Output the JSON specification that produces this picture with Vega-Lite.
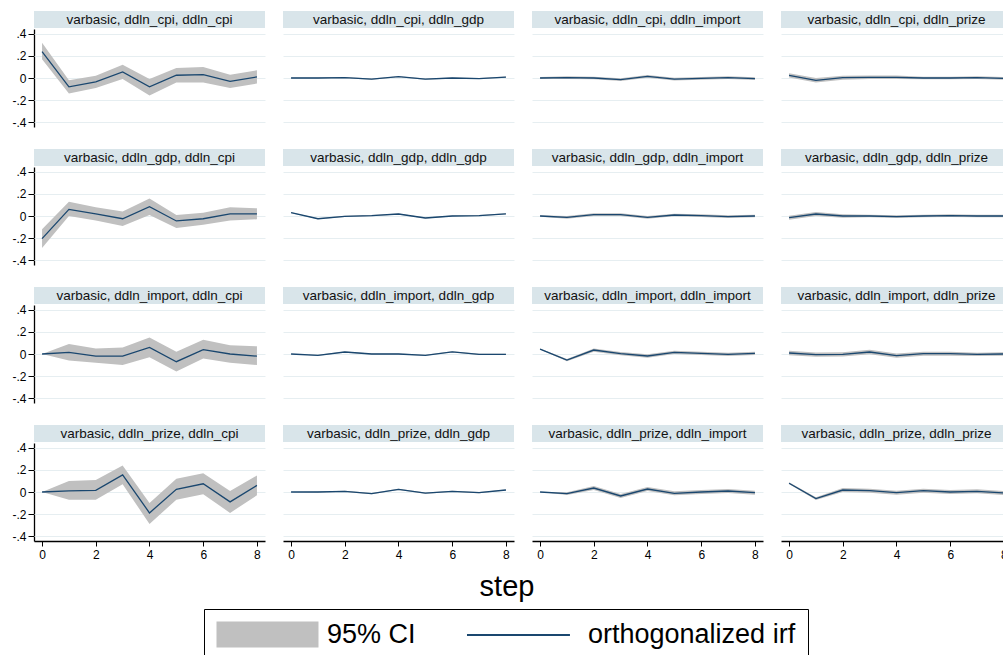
{
  "$schema": "https://vega.github.io/schema/vega-lite/v6.json",
  "background": "white",
  "padding": {"left": 11, "top": 11, "right": -8, "bottom": -6},
  "title": {
    "text": "step",
    "orient": "bottom",
    "anchor": "middle",
    "offset": -88,
    "dx": -5,
    "font": "Liberation Sans",
    "fontSize": 29,
    "fontWeight": "normal",
    "color": "black"
  },
  "config": {
    "font": "Liberation Sans",
    "view": {"stroke": null},
    "axis": {
      "labelFont": "Liberation Sans",
      "labelFontSize": 12,
      "labelColor": "black",
      "domainColor": "black",
      "domainWidth": 1.3,
      "tickColor": "black",
      "tickSize": 6,
      "tickWidth": 1,
      "gridColor": "#e6eef1",
      "gridWidth": 1,
      "labelOverlap": false
    },
    "axisX": {"values": [0, 2, 4, 6, 8], "grid": false, "labelPadding": 3, "tickSize": 5},
    "axisY": {"values": [-0.4, -0.2, 0, 0.2, 0.4], "tickCount": 5, "grid": true, "labelPadding": 2}
  },
  "data": {
    "values": [
      {"impulse":"ddln_cpi","response":"ddln_cpi","step":0,"irf":0.24,"lo":0.17,"hi":0.32},
      {"impulse":"ddln_cpi","response":"ddln_cpi","step":1,"irf":-0.08,"lo":-0.14,"hi":-0.02},
      {"impulse":"ddln_cpi","response":"ddln_cpi","step":2,"irf":-0.035,"lo":-0.09,"hi":0.02},
      {"impulse":"ddln_cpi","response":"ddln_cpi","step":3,"irf":0.055,"lo":-0.01,"hi":0.12},
      {"impulse":"ddln_cpi","response":"ddln_cpi","step":4,"irf":-0.08,"lo":-0.16,"hi":-0.01},
      {"impulse":"ddln_cpi","response":"ddln_cpi","step":5,"irf":0.025,"lo":-0.04,"hi":0.09},
      {"impulse":"ddln_cpi","response":"ddln_cpi","step":6,"irf":0.03,"lo":-0.04,"hi":0.1},
      {"impulse":"ddln_cpi","response":"ddln_cpi","step":7,"irf":-0.03,"lo":-0.09,"hi":0.03},
      {"impulse":"ddln_cpi","response":"ddln_cpi","step":8,"irf":0.01,"lo":-0.05,"hi":0.07},

      {"impulse":"ddln_gdp","response":"ddln_cpi","step":0,"irf":-0.205,"lo":-0.29,"hi":-0.12},
      {"impulse":"ddln_gdp","response":"ddln_cpi","step":1,"irf":0.06,"lo":0.0,"hi":0.13},
      {"impulse":"ddln_gdp","response":"ddln_cpi","step":2,"irf":0.02,"lo":-0.04,"hi":0.08},
      {"impulse":"ddln_gdp","response":"ddln_cpi","step":3,"irf":-0.025,"lo":-0.09,"hi":0.04},
      {"impulse":"ddln_gdp","response":"ddln_cpi","step":4,"irf":0.085,"lo":0.01,"hi":0.16},
      {"impulse":"ddln_gdp","response":"ddln_cpi","step":5,"irf":-0.045,"lo":-0.11,"hi":0.01},
      {"impulse":"ddln_gdp","response":"ddln_cpi","step":6,"irf":-0.025,"lo":-0.08,"hi":0.03},
      {"impulse":"ddln_gdp","response":"ddln_cpi","step":7,"irf":0.02,"lo":-0.04,"hi":0.08},
      {"impulse":"ddln_gdp","response":"ddln_cpi","step":8,"irf":0.02,"lo":-0.03,"hi":0.07},

      {"impulse":"ddln_import","response":"ddln_cpi","step":0,"irf":0,"lo":0,"hi":0},
      {"impulse":"ddln_import","response":"ddln_cpi","step":1,"irf":0.015,"lo":-0.06,"hi":0.09},
      {"impulse":"ddln_import","response":"ddln_cpi","step":2,"irf":-0.02,"lo":-0.08,"hi":0.05},
      {"impulse":"ddln_import","response":"ddln_cpi","step":3,"irf":-0.02,"lo":-0.1,"hi":0.06},
      {"impulse":"ddln_import","response":"ddln_cpi","step":4,"irf":0.06,"lo":-0.03,"hi":0.15},
      {"impulse":"ddln_import","response":"ddln_cpi","step":5,"irf":-0.07,"lo":-0.16,"hi":0.02},
      {"impulse":"ddln_import","response":"ddln_cpi","step":6,"irf":0.04,"lo":-0.04,"hi":0.13},
      {"impulse":"ddln_import","response":"ddln_cpi","step":7,"irf":0.0,"lo":-0.08,"hi":0.08},
      {"impulse":"ddln_import","response":"ddln_cpi","step":8,"irf":-0.02,"lo":-0.1,"hi":0.07},

      {"impulse":"ddln_prize","response":"ddln_cpi","step":0,"irf":0,"lo":0,"hi":0},
      {"impulse":"ddln_prize","response":"ddln_cpi","step":1,"irf":0.01,"lo":-0.07,"hi":0.1},
      {"impulse":"ddln_prize","response":"ddln_cpi","step":2,"irf":0.015,"lo":-0.07,"hi":0.11},
      {"impulse":"ddln_prize","response":"ddln_cpi","step":3,"irf":0.155,"lo":0.07,"hi":0.24},
      {"impulse":"ddln_prize","response":"ddln_cpi","step":4,"irf":-0.19,"lo":-0.29,"hi":-0.1},
      {"impulse":"ddln_prize","response":"ddln_cpi","step":5,"irf":0.025,"lo":-0.07,"hi":0.12},
      {"impulse":"ddln_prize","response":"ddln_cpi","step":6,"irf":0.075,"lo":-0.02,"hi":0.17},
      {"impulse":"ddln_prize","response":"ddln_cpi","step":7,"irf":-0.09,"lo":-0.19,"hi":0.01},
      {"impulse":"ddln_prize","response":"ddln_cpi","step":8,"irf":0.06,"lo":-0.03,"hi":0.15},

      {"impulse":"ddln_cpi","response":"ddln_gdp","step":0,"irf":0,"lo":-0.004,"hi":0.004},
      {"impulse":"ddln_cpi","response":"ddln_gdp","step":1,"irf":0,"lo":-0.005,"hi":0.005},
      {"impulse":"ddln_cpi","response":"ddln_gdp","step":2,"irf":0.003,"lo":-0.002,"hi":0.008},
      {"impulse":"ddln_cpi","response":"ddln_gdp","step":3,"irf":-0.01,"lo":-0.015,"hi":-0.005},
      {"impulse":"ddln_cpi","response":"ddln_gdp","step":4,"irf":0.012,"lo":0.007,"hi":0.017},
      {"impulse":"ddln_cpi","response":"ddln_gdp","step":5,"irf":-0.01,"lo":-0.015,"hi":-0.005},
      {"impulse":"ddln_cpi","response":"ddln_gdp","step":6,"irf":0,"lo":-0.005,"hi":0.005},
      {"impulse":"ddln_cpi","response":"ddln_gdp","step":7,"irf":-0.005,"lo":-0.01,"hi":0.0},
      {"impulse":"ddln_cpi","response":"ddln_gdp","step":8,"irf":0.008,"lo":0.003,"hi":0.013},

      {"impulse":"ddln_gdp","response":"ddln_gdp","step":0,"irf":0.03,"lo":0.027,"hi":0.033},
      {"impulse":"ddln_gdp","response":"ddln_gdp","step":1,"irf":-0.025,"lo":-0.03,"hi":-0.02},
      {"impulse":"ddln_gdp","response":"ddln_gdp","step":2,"irf":-0.003,"lo":-0.008,"hi":0.002},
      {"impulse":"ddln_gdp","response":"ddln_gdp","step":3,"irf":0.003,"lo":-0.002,"hi":0.008},
      {"impulse":"ddln_gdp","response":"ddln_gdp","step":4,"irf":0.018,"lo":0.013,"hi":0.023},
      {"impulse":"ddln_gdp","response":"ddln_gdp","step":5,"irf":-0.018,"lo":-0.023,"hi":-0.013},
      {"impulse":"ddln_gdp","response":"ddln_gdp","step":6,"irf":0,"lo":-0.005,"hi":0.005},
      {"impulse":"ddln_gdp","response":"ddln_gdp","step":7,"irf":0.003,"lo":-0.002,"hi":0.008},
      {"impulse":"ddln_gdp","response":"ddln_gdp","step":8,"irf":0.02,"lo":0.015,"hi":0.025},

      {"impulse":"ddln_import","response":"ddln_gdp","step":0,"irf":0,"lo":0,"hi":0},
      {"impulse":"ddln_import","response":"ddln_gdp","step":1,"irf":-0.012,"lo":-0.017,"hi":-0.007},
      {"impulse":"ddln_import","response":"ddln_gdp","step":2,"irf":0.018,"lo":0.013,"hi":0.023},
      {"impulse":"ddln_import","response":"ddln_gdp","step":3,"irf":0,"lo":-0.005,"hi":0.005},
      {"impulse":"ddln_import","response":"ddln_gdp","step":4,"irf":0,"lo":-0.005,"hi":0.005},
      {"impulse":"ddln_import","response":"ddln_gdp","step":5,"irf":-0.012,"lo":-0.017,"hi":-0.007},
      {"impulse":"ddln_import","response":"ddln_gdp","step":6,"irf":0.02,"lo":0.015,"hi":0.025},
      {"impulse":"ddln_import","response":"ddln_gdp","step":7,"irf":-0.003,"lo":-0.008,"hi":0.002},
      {"impulse":"ddln_import","response":"ddln_gdp","step":8,"irf":-0.003,"lo":-0.008,"hi":0.002},

      {"impulse":"ddln_prize","response":"ddln_gdp","step":0,"irf":0,"lo":0,"hi":0},
      {"impulse":"ddln_prize","response":"ddln_gdp","step":1,"irf":0,"lo":-0.005,"hi":0.005},
      {"impulse":"ddln_prize","response":"ddln_gdp","step":2,"irf":0.006,"lo":0.001,"hi":0.011},
      {"impulse":"ddln_prize","response":"ddln_gdp","step":3,"irf":-0.015,"lo":-0.02,"hi":-0.01},
      {"impulse":"ddln_prize","response":"ddln_gdp","step":4,"irf":0.024,"lo":0.019,"hi":0.029},
      {"impulse":"ddln_prize","response":"ddln_gdp","step":5,"irf":-0.01,"lo":-0.015,"hi":-0.005},
      {"impulse":"ddln_prize","response":"ddln_gdp","step":6,"irf":0.006,"lo":0.001,"hi":0.011},
      {"impulse":"ddln_prize","response":"ddln_gdp","step":7,"irf":-0.006,"lo":-0.011,"hi":-0.001},
      {"impulse":"ddln_prize","response":"ddln_gdp","step":8,"irf":0.018,"lo":0.013,"hi":0.023},

      {"impulse":"ddln_cpi","response":"ddln_import","step":0,"irf":0,"lo":-0.008,"hi":0.008},
      {"impulse":"ddln_cpi","response":"ddln_import","step":1,"irf":0.003,"lo":-0.009,"hi":0.015},
      {"impulse":"ddln_cpi","response":"ddln_import","step":2,"irf":0,"lo":-0.012,"hi":0.012},
      {"impulse":"ddln_cpi","response":"ddln_import","step":3,"irf":-0.015,"lo":-0.027,"hi":-0.003},
      {"impulse":"ddln_cpi","response":"ddln_import","step":4,"irf":0.015,"lo":0.003,"hi":0.027},
      {"impulse":"ddln_cpi","response":"ddln_import","step":5,"irf":-0.01,"lo":-0.022,"hi":0.002},
      {"impulse":"ddln_cpi","response":"ddln_import","step":6,"irf":-0.003,"lo":-0.015,"hi":0.009},
      {"impulse":"ddln_cpi","response":"ddln_import","step":7,"irf":0.003,"lo":-0.009,"hi":0.015},
      {"impulse":"ddln_cpi","response":"ddln_import","step":8,"irf":-0.006,"lo":-0.018,"hi":0.006},

      {"impulse":"ddln_gdp","response":"ddln_import","step":0,"irf":0,"lo":-0.006,"hi":0.006},
      {"impulse":"ddln_gdp","response":"ddln_import","step":1,"irf":-0.012,"lo":-0.024,"hi":0.0},
      {"impulse":"ddln_gdp","response":"ddln_import","step":2,"irf":0.012,"lo":0.0,"hi":0.024},
      {"impulse":"ddln_gdp","response":"ddln_import","step":3,"irf":0.012,"lo":0.0,"hi":0.024},
      {"impulse":"ddln_gdp","response":"ddln_import","step":4,"irf":-0.012,"lo":-0.024,"hi":0.0},
      {"impulse":"ddln_gdp","response":"ddln_import","step":5,"irf":0.009,"lo":-0.003,"hi":0.021},
      {"impulse":"ddln_gdp","response":"ddln_import","step":6,"irf":0.003,"lo":-0.009,"hi":0.015},
      {"impulse":"ddln_gdp","response":"ddln_import","step":7,"irf":-0.006,"lo":-0.018,"hi":0.006},
      {"impulse":"ddln_gdp","response":"ddln_import","step":8,"irf":0,"lo":-0.012,"hi":0.012},

      {"impulse":"ddln_import","response":"ddln_import","step":0,"irf":0.045,"lo":0.04,"hi":0.05},
      {"impulse":"ddln_import","response":"ddln_import","step":1,"irf":-0.055,"lo":-0.065,"hi":-0.045},
      {"impulse":"ddln_import","response":"ddln_import","step":2,"irf":0.036,"lo":0.021,"hi":0.051},
      {"impulse":"ddln_import","response":"ddln_import","step":3,"irf":0.003,"lo":-0.012,"hi":0.018},
      {"impulse":"ddln_import","response":"ddln_import","step":4,"irf":-0.018,"lo":-0.033,"hi":-0.003},
      {"impulse":"ddln_import","response":"ddln_import","step":5,"irf":0.015,"lo":0.0,"hi":0.03},
      {"impulse":"ddln_import","response":"ddln_import","step":6,"irf":0.006,"lo":-0.009,"hi":0.021},
      {"impulse":"ddln_import","response":"ddln_import","step":7,"irf":-0.003,"lo":-0.018,"hi":0.012},
      {"impulse":"ddln_import","response":"ddln_import","step":8,"irf":0.006,"lo":-0.009,"hi":0.021},

      {"impulse":"ddln_prize","response":"ddln_import","step":0,"irf":0,"lo":0,"hi":0},
      {"impulse":"ddln_prize","response":"ddln_import","step":1,"irf":-0.015,"lo":-0.027,"hi":-0.003},
      {"impulse":"ddln_prize","response":"ddln_import","step":2,"irf":0.036,"lo":0.018,"hi":0.054},
      {"impulse":"ddln_prize","response":"ddln_import","step":3,"irf":-0.036,"lo":-0.054,"hi":-0.018},
      {"impulse":"ddln_prize","response":"ddln_import","step":4,"irf":0.027,"lo":0.009,"hi":0.045},
      {"impulse":"ddln_prize","response":"ddln_import","step":5,"irf":-0.012,"lo":-0.03,"hi":0.006},
      {"impulse":"ddln_prize","response":"ddln_import","step":6,"irf":0,"lo":-0.018,"hi":0.018},
      {"impulse":"ddln_prize","response":"ddln_import","step":7,"irf":0.009,"lo":-0.009,"hi":0.027},
      {"impulse":"ddln_prize","response":"ddln_import","step":8,"irf":-0.006,"lo":-0.024,"hi":0.012},

      {"impulse":"ddln_cpi","response":"ddln_prize","step":0,"irf":0.024,"lo":0.004,"hi":0.044},
      {"impulse":"ddln_cpi","response":"ddln_prize","step":1,"irf":-0.021,"lo":-0.041,"hi":-0.001},
      {"impulse":"ddln_cpi","response":"ddln_prize","step":2,"irf":0.003,"lo":-0.015,"hi":0.021},
      {"impulse":"ddln_cpi","response":"ddln_prize","step":3,"irf":0.006,"lo":-0.01,"hi":0.022},
      {"impulse":"ddln_cpi","response":"ddln_prize","step":4,"irf":0.006,"lo":-0.01,"hi":0.022},
      {"impulse":"ddln_cpi","response":"ddln_prize","step":5,"irf":0,"lo":-0.012,"hi":0.012},
      {"impulse":"ddln_cpi","response":"ddln_prize","step":6,"irf":0,"lo":-0.012,"hi":0.012},
      {"impulse":"ddln_cpi","response":"ddln_prize","step":7,"irf":0.003,"lo":-0.009,"hi":0.015},
      {"impulse":"ddln_cpi","response":"ddln_prize","step":8,"irf":-0.003,"lo":-0.015,"hi":0.009},

      {"impulse":"ddln_gdp","response":"ddln_prize","step":0,"irf":-0.015,"lo":-0.033,"hi":0.003},
      {"impulse":"ddln_gdp","response":"ddln_prize","step":1,"irf":0.018,"lo":0.0,"hi":0.036},
      {"impulse":"ddln_gdp","response":"ddln_prize","step":2,"irf":0,"lo":-0.015,"hi":0.015},
      {"impulse":"ddln_gdp","response":"ddln_prize","step":3,"irf":0,"lo":-0.012,"hi":0.012},
      {"impulse":"ddln_gdp","response":"ddln_prize","step":4,"irf":-0.006,"lo":-0.018,"hi":0.006},
      {"impulse":"ddln_gdp","response":"ddln_prize","step":5,"irf":0,"lo":-0.012,"hi":0.012},
      {"impulse":"ddln_gdp","response":"ddln_prize","step":6,"irf":0.003,"lo":-0.009,"hi":0.015},
      {"impulse":"ddln_gdp","response":"ddln_prize","step":7,"irf":0,"lo":-0.012,"hi":0.012},
      {"impulse":"ddln_gdp","response":"ddln_prize","step":8,"irf":0,"lo":-0.012,"hi":0.012},

      {"impulse":"ddln_import","response":"ddln_prize","step":0,"irf":0.009,"lo":-0.011,"hi":0.029},
      {"impulse":"ddln_import","response":"ddln_prize","step":1,"irf":-0.006,"lo":-0.026,"hi":0.014},
      {"impulse":"ddln_import","response":"ddln_prize","step":2,"irf":-0.003,"lo":-0.023,"hi":0.017},
      {"impulse":"ddln_import","response":"ddln_prize","step":3,"irf":0.018,"lo":-0.002,"hi":0.038},
      {"impulse":"ddln_import","response":"ddln_prize","step":4,"irf":-0.015,"lo":-0.035,"hi":0.005},
      {"impulse":"ddln_import","response":"ddln_prize","step":5,"irf":0.003,"lo":-0.015,"hi":0.021},
      {"impulse":"ddln_import","response":"ddln_prize","step":6,"irf":0.003,"lo":-0.015,"hi":0.021},
      {"impulse":"ddln_import","response":"ddln_prize","step":7,"irf":-0.003,"lo":-0.018,"hi":0.012},
      {"impulse":"ddln_import","response":"ddln_prize","step":8,"irf":0,"lo":-0.015,"hi":0.015},

      {"impulse":"ddln_prize","response":"ddln_prize","step":0,"irf":0.08,"lo":0.072,"hi":0.088},
      {"impulse":"ddln_prize","response":"ddln_prize","step":1,"irf":-0.06,"lo":-0.072,"hi":-0.048},
      {"impulse":"ddln_prize","response":"ddln_prize","step":2,"irf":0.018,"lo":0.0,"hi":0.036},
      {"impulse":"ddln_prize","response":"ddln_prize","step":3,"irf":0.012,"lo":-0.006,"hi":0.03},
      {"impulse":"ddln_prize","response":"ddln_prize","step":4,"irf":-0.006,"lo":-0.024,"hi":0.012},
      {"impulse":"ddln_prize","response":"ddln_prize","step":5,"irf":0.012,"lo":-0.006,"hi":0.03},
      {"impulse":"ddln_prize","response":"ddln_prize","step":6,"irf":0,"lo":-0.018,"hi":0.018},
      {"impulse":"ddln_prize","response":"ddln_prize","step":7,"irf":0.006,"lo":-0.012,"hi":0.024},
      {"impulse":"ddln_prize","response":"ddln_prize","step":8,"irf":-0.009,"lo":-0.027,"hi":0.009}
    ]
  },
  "transform": [
    {"calculate": "'varbasic, ' + datum.impulse + ', ' + datum.response", "as": "label"}
  ],
  "facet": {
    "row": {"field": "impulse", "type": "nominal", "header": {"labels": false, "title": null}},
    "column": {"field": "response", "type": "nominal", "header": {"labels": false, "title": null}}
  },
  "spacing": {"row": 22, "column": 18},
  "spec": {
    "width": 231,
    "height": 98,
    "layer": [
      {
        "mark": {"type": "area", "opacity": 1},
        "encoding": {
          "x": {
            "field": "step",
            "type": "quantitative",
            "scale": {"domain": [-0.3, 8.3], "nice": false, "zero": false},
            "axis": {"title": null, "format": "d"}
          },
          "y": {
            "field": "lo",
            "type": "quantitative",
            "scale": {"domain": [-0.445, 0.445], "nice": false, "zero": false},
            "axis": {
              "title": null,
              "labelExpr": "datum.value == 0 ? '0' : (datum.value < 0 ? '-' : '') + '.' + round(abs(datum.value) * 10)"
            }
          },
          "y2": {"field": "hi"},
          "fill": {
            "datum": "95% CI",
            "type": "nominal",
            "scale": {"domain": ["95% CI"], "range": ["#c0c0c0"]},
            "legend": {
              "title": null,
              "orient": "none",
              "legendX": 170,
              "legendY": 580,
              "direction": "horizontal",
              "strokeColor": null,
              "padding": 12,
              "labelFont": "Liberation Sans",
              "labelFontSize": 27,
              "labelColor": "black",
              "labelLimit": 400,
              "labelOffset": 84,
              "symbolSize": 676,
              "symbolType": "M-1,-1H6.846V1H-1Z",
              "symbolStrokeWidth": 0,
              "symbolOpacity": 1
            }
          }
        }
      },
      {
        "mark": {"type": "line", "strokeWidth": 1.3},
        "encoding": {
          "x": {"field": "step", "type": "quantitative", "axis": {"title": null, "format": "d"}},
          "y": {
            "field": "irf",
            "type": "quantitative",
            "axis": {
              "title": null,
              "labelExpr": "datum.value == 0 ? '0' : (datum.value < 0 ? '-' : '') + '.' + round(abs(datum.value) * 10)"
            }
          },
          "stroke": {
            "datum": "orthogonalized irf",
            "type": "nominal",
            "scale": {"domain": ["orthogonalized irf"], "range": ["#1a476f"]},
            "legend": {
              "title": null,
              "orient": "none",
              "legendX": 170,
              "legendY": 580,
              "direction": "horizontal",
              "strokeColor": "black",
              "padding": 12,
              "labelFont": "Liberation Sans",
              "labelFontSize": 27,
              "labelColor": "black",
              "labelLimit": 400,
              "labelOffset": 344,
              "symbolSize": 676,
              "symbolType": "M18.23,0H26.15",
              "symbolStrokeWidth": 2,
              "symbolOpacity": 1
            }
          }
        }
      },
      {
        "transform": [{"filter": "datum.step == 0"}],
        "mark": {"type": "rect", "fill": "#d9e5ea"},
        "encoding": {
          "x": {"datum": -0.3, "type": "quantitative", "axis": {"title": null, "format": "d"}},
          "x2": {"datum": 8.3},
          "y": {
            "datum": 0.454,
            "type": "quantitative",
            "axis": {
              "title": null,
              "labelExpr": "datum.value == 0 ? '0' : (datum.value < 0 ? '-' : '') + '.' + round(abs(datum.value) * 10)"
            }
          },
          "y2": {"datum": 0.608}
        }
      },
      {
        "transform": [{"filter": "datum.step == 0"}],
        "mark": {"type": "text", "fontSize": 13.5, "font": "Liberation Sans", "color": "#111111", "baseline": "middle", "align": "center"},
        "encoding": {
          "x": {"datum": 4, "type": "quantitative", "axis": {"title": null, "format": "d"}},
          "y": {
            "datum": 0.531,
            "type": "quantitative",
            "axis": {
              "title": null,
              "labelExpr": "datum.value == 0 ? '0' : (datum.value < 0 ? '-' : '') + '.' + round(abs(datum.value) * 10)"
            }
          },
          "text": {"field": "label", "type": "nominal"}
        }
      }
    ]
  }
}
